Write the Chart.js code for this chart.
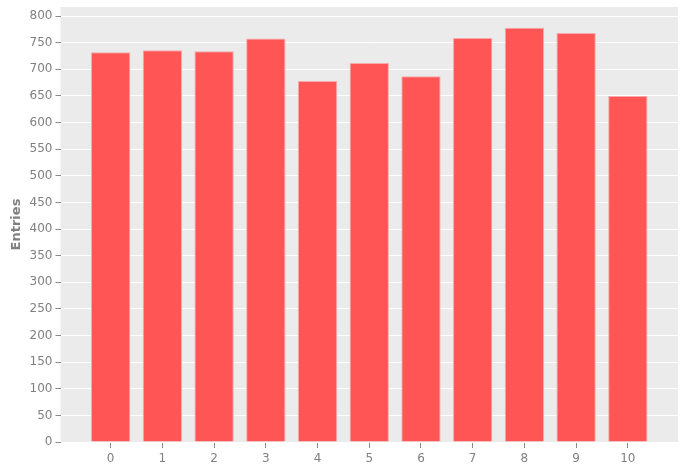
<!DOCTYPE html>
<html>
<head>
<meta charset="utf-8">
<script src="https://cdn.jsdelivr.net/npm/chart.js@4"></script>
<style>
  html, body { margin: 0; padding: 0; background: #fff; }
  #wrap { width: 684px; height: 472px; }
</style>
</head>
<body>
<div id="wrap"><canvas id="histChart"></canvas></div>
<script>
const bins = [0, 1, 2, 3, 4, 5, 6, 7, 8, 9, 10];
const entries = [732, 736, 734, 758, 678, 712, 687, 759, 778, 768, 650];
const yTicks = [0, 50, 100, 150, 200, 250, 300, 350, 400, 450, 500, 550, 600, 650, 700, 750, 800];

// grey panel behind the plot area
const panelBg = {
    id: 'panelBg',
    beforeDraw(chart) {
        const { ctx, chartArea: a } = chart;
        ctx.save();
        ctx.fillStyle = '#ebebeb';
        ctx.fillRect(a.left, a.top, a.right - a.left, a.bottom - a.top);
        ctx.restore();
    }
};

new Chart(document.getElementById('histChart'), {
    type: 'bar',
    data: {
        datasets: [{
            data: bins.map((b, i) => ({ x: b, y: entries[i] })),
            backgroundColor: '#ff5555',
            borderColor: '#f7a9a9',
            borderWidth: 1,
            borderSkipped: 'bottom',
            barPercentage: 0.76,
            categoryPercentage: 1
        }]
    },
    options: {
        responsive: true,
        maintainAspectRatio: false,
        animation: false,
        layout: { padding: { top: 7, right: 6, left: 9, bottom: 2 } },
        plugins: { legend: { display: false }, tooltip: { enabled: false } },
        scales: {
            x: {
                type: 'linear',
                offset: false,
                min: -0.97,
                max: 10.97,
                afterBuildTicks(axis) { axis.ticks = bins.map(v => ({ value: v })); },
                grid: { offset: false, drawOnChartArea: false, tickLength: 6, tickColor: '#888' },
                border: { display: false },
                ticks: { color: '#808080', font: { family: 'DejaVu Sans', size: 12, lineHeight: 1 }, padding: 5 }
            },
            y: {
                min: 0,
                max: 817,
                afterBuildTicks(axis) { axis.ticks = yTicks.map(v => ({ value: v })); },
                grid: { color: '#ffffff', lineWidth: 1, tickLength: 5, tickColor: '#888' },
                border: { display: false },
                ticks: { color: '#808080', font: { family: 'DejaVu Sans', size: 12, lineHeight: 0.5 }, padding: 3 },
                title: {
                    display: true,
                    text: 'Entries',
                    color: '#808080',
                    font: { family: 'DejaVu Sans', size: 13, weight: 'bold' },
                    padding: { top: 0, bottom: 2 }
                }
            }
        }
    },
    plugins: [panelBg]
});
</script>
</body>
</html>
